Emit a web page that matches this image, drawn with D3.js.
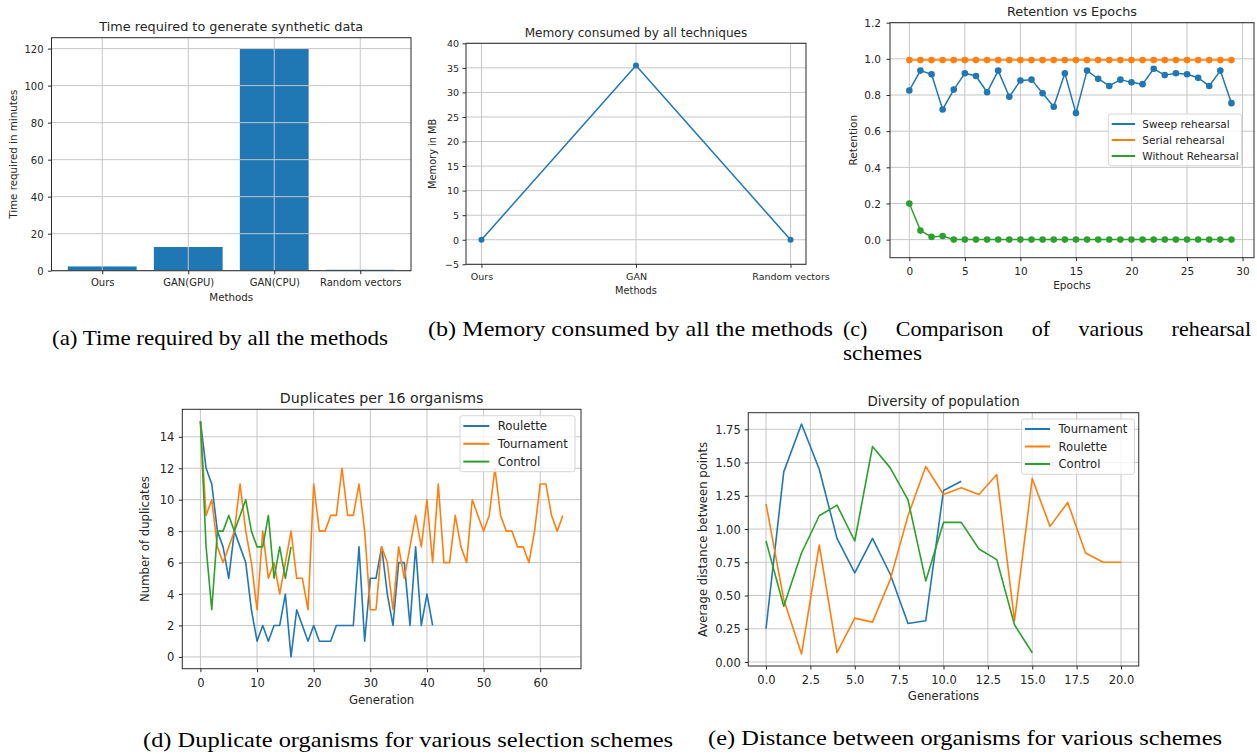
<!DOCTYPE html>
<html><head><meta charset="utf-8">
<script src="https://cdn.jsdelivr.net/npm/d3@7"></script>
<style>
body{margin:0;background:#fff}
svg{display:block}
</style>
</head><body>
<svg id="fig" width="1257" height="754"></svg>
<script>
// ---------------- DATA ----------------
const timeMethods = ["Ours", "GAN(GPU)", "GAN(CPU)", "Random vectors"];
const timeMinutes = [2.3, 12.8, 119.8, 0.5];
const timeTicks = [0, 20, 40, 60, 80, 100, 120];

const memMethods = ["Ours", "GAN", "Random vectors"];
const memMB = [0, 35.5, 0];
const memTicks = [-5, 0, 5, 10, 15, 20, 25, 30, 35, 40];

const epochTicks = [0, 5, 10, 15, 20, 25, 30];
const retentionTicks = [0.0, 0.2, 0.4, 0.6, 0.8, 1.0, 1.2];
const sweepRehearsal = [0.825, 0.935, 0.915, 0.72, 0.83, 0.92, 0.905, 0.815, 0.935, 0.79,
  0.88, 0.885, 0.81, 0.735, 0.92, 0.70, 0.935, 0.89, 0.85, 0.885,
  0.87, 0.86, 0.945, 0.91, 0.92, 0.915, 0.895, 0.85, 0.935, 0.755];
const serialRehearsal = [0.993, 0.993, 0.993, 0.993, 0.993, 0.993, 0.993, 0.993, 0.993, 0.993,
  0.993, 0.993, 0.993, 0.993, 0.993, 0.993, 0.993, 0.993, 0.993, 0.993,
  0.993, 0.993, 0.993, 0.993, 0.993, 0.993, 0.993, 0.993, 0.993, 0.993];
const withoutRehearsal = [0.2, 0.05, 0.015, 0.02, 0, 0, 0, 0, 0, 0,
  0, 0, 0, 0, 0, 0, 0, 0, 0, 0,
  0, 0, 0, 0, 0, 0, 0, 0, 0, 0];
const retentionSeries = ["Sweep rehearsal", "Serial rehearsal", "Without Rehearsal"];

const generationTicks = [0, 10, 20, 30, 40, 50, 60];
const duplicateTicks = [0, 2, 4, 6, 8, 10, 12, 14];
const dupRoulette = [15, 12, 11, 8, 7, 5, 8, 7, 6, 3, 1, 2, 1, 2, 2, 4, 0, 3, 2, 1,
  2, 1, 1, 1, 2, 2, 2, 2, 7, 1, 5, 5, 7, 4, 2, 6, 6, 2, 7, 2, 4, 2];
const dupTournament = [15, 9, 10, 7, 6, 7, 8, 11, 8, 6, 3, 8, 5, 6, 4, 6, 8, 5, 5, 3,
  11, 8, 8, 9, 9, 12, 9, 9, 11, 8, 3, 3, 7, 6, 3, 7, 5, 7, 9, 7,
  10, 6, 11, 6, 6, 9, 7, 6, 10, 9, 8, 9, 12, 9, 8, 8, 7, 7, 6, 8,
  11, 11, 9, 8, 9];
const dupControl = [15, 7, 3, 8, 8, 9, 8, 9, 10, 8, 7, 7, 9, 5, 7, 5, 7];
const dupSeries = ["Roulette", "Tournament", "Control"];

const diversityXTicks = [0, 2.5, 5, 7.5, 10, 12.5, 15, 17.5, 20];
const diversityYTicks = [0, 0.25, 0.5, 0.75, 1.0, 1.25, 1.5, 1.75];
const divTournament = [0.25, 1.43, 1.79, 1.45, 0.93, 0.67, 0.93, 0.66, 0.29, 0.31, 1.29, 1.36];
const divRoulette = [1.19, 0.47, 0.06, 0.88, 0.07, 0.33, 0.30, 0.62, 1.10, 1.47, 1.26, 1.31,
  1.26, 1.41, 0.31, 1.38, 1.02, 1.20, 0.82, 0.75, 0.75];
const divControl = [0.91, 0.42, 0.82, 1.10, 1.18, 0.91, 1.62, 1.46, 1.22, 0.61, 1.05, 1.05,
  0.85, 0.77, 0.28, 0.07];
const divSeries = ["Tournament", "Roulette", "Control"];

const captions = [
  "(a) Time required by all the methods",
  "(b) Memory consumed by all the methods",
  "(c) Comparison of various rehearsal",
  "schemes",
  "(d) Duplicate organisms for various selection schemes",
  "(e) Distance between organisms for various schemes"
];

// ---------------- STYLE ----------------
const FONT = '"DejaVu Sans", sans-serif';
const SERIF = '"Liberation Serif", "Times New Roman", Times, serif';
const TXT = "#262626";
const GRID = "#c6c6c6";
const SPINE = "#2b2b2b";
const BLUE = "#1f77b4", ORANGE = "#ff7f0e", GREEN = "#2ca02c";

const svg = d3.select("#fig");

function panel(o) {
  const g = svg.append("g");
  const x = d3.scaleLinear().domain(o.xd).range([o.l, o.r]);
  const y = d3.scaleLinear().domain(o.yd).range([o.b, o.t]);
  const H = o.b - o.t, W = o.r - o.l;
  const below = g.append("g");
  const grid = g.append("g");
  const marks = g.append("g");
  const top = g.append("g");

  grid.selectAll("line.gx").data(o.xt).join("line")
    .attr("x1", d => x(d)).attr("x2", d => x(d)).attr("y1", o.t).attr("y2", o.b)
    .attr("stroke", GRID).attr("stroke-width", 1);
  grid.selectAll("line.gy").data(o.yt).join("line")
    .attr("y1", d => y(d)).attr("y2", d => y(d)).attr("x1", o.l).attr("x2", o.r)
    .attr("stroke", GRID).attr("stroke-width", 1);

  const ax = top.append("g").attr("transform", `translate(0,${o.b})`)
    .call(d3.axisBottom(x).tickValues(o.xt).tickFormat(o.xf).tickSize(3.5));
  ax.select(".domain").remove();
  ax.selectAll("line").attr("stroke", SPINE);
  ax.selectAll("text").attr("y", o.xoff).attr("dy", "0.35em")
    .attr("font-family", FONT).attr("font-size", o.tfs).attr("fill", TXT);
  const ay = top.append("g").attr("transform", `translate(${o.l},0)`)
    .call(d3.axisLeft(y).tickValues(o.yt).tickFormat(o.yf).tickSize(3.5));
  ay.select(".domain").remove();
  ay.selectAll("line").attr("stroke", SPINE);
  ay.selectAll("text").attr("x", -o.yoff).attr("dy", "0.35em")
    .attr("font-family", FONT).attr("font-size", o.tfs).attr("fill", TXT);

  top.append("rect").attr("x", o.l).attr("y", o.t).attr("width", W).attr("height", H)
    .attr("fill", "none").attr("stroke", SPINE).attr("stroke-width", 1);

  top.append("text").attr("x", (o.l + o.r) / 2).attr("y", o.titleY).attr("dy", "0.35em")
    .attr("text-anchor", "middle").attr("font-family", FONT).attr("font-size", o.titfs)
    .attr("fill", TXT).text(o.title);
  top.append("text").attr("x", (o.l + o.r) / 2).attr("y", o.xlabY).attr("dy", "0.35em")
    .attr("text-anchor", "middle").attr("font-family", FONT).attr("font-size", o.lfs)
    .attr("fill", TXT).text(o.xlab);
  top.append("text").attr("transform", `translate(${o.ylabX},${(o.t + o.b) / 2}) rotate(-90)`)
    .attr("dy", "0.35em").attr("text-anchor", "middle").attr("font-family", FONT)
    .attr("font-size", o.lfs).attr("fill", TXT).text(o.ylab);
  return { g, x, y, below, marks, top };
}

function drawLine(p, vals, color, lw, r) {
  const line = d3.line().x((d, i) => p.x(i)).y(d => p.y(d));
  p.marks.append("path").datum(vals).attr("d", line).attr("fill", "none")
    .attr("stroke", color).attr("stroke-width", lw).attr("stroke-linejoin", "round");
  if (r) {
    p.marks.append("g").selectAll("circle").data(vals).join("circle")
      .attr("cx", (d, i) => p.x(i)).attr("cy", d => p.y(d)).attr("r", r).attr("fill", color);
  }
}

function legend(p, o) {
  const lg = p.top.append("g");
  lg.append("rect").attr("x", o.x).attr("y", o.y).attr("width", o.w).attr("height", o.h)
    .attr("rx", 2.5).attr("fill", "#fff").attr("fill-opacity", 0.8)
    .attr("stroke", "#d6d6d6").attr("stroke-width", 1);
  o.items.forEach((it, i) => {
    const cy = o.y0 + i * o.dy;
    lg.append("line").attr("x1", o.hx0).attr("x2", o.hx1).attr("y1", cy).attr("y2", cy)
      .attr("stroke", it.c).attr("stroke-width", 2);
    lg.append("text").attr("x", o.tx).attr("y", cy).attr("dy", "0.35em")
      .attr("font-family", FONT).attr("font-size", o.fs).attr("fill", TXT).text(it.t);
  });
}

// ---------------- (a) ----------------
{
  const p = panel({
    l: 51.5, r: 411, t: 37.7, b: 270.7, xd: [-0.59, 3.59], yd: [0, 125.9],
    xt: d3.range(timeMethods.length), xf: i => timeMethods[i], yt: timeTicks, yf: d3.format("d"),
    xoff: 12.3, yoff: 8, tfs: 10, lfs: 10.3, titfs: 12.8,
    title: "Time required to generate synthetic data", titleY: 26.5,
    xlab: "Methods", xlabY: 297, ylab: "Time required in minutes", ylabX: 13.5
  });
  const bw = p.x(0.4) - p.x(0);
  p.below.selectAll("rect").data(timeMinutes).join("rect")
    .attr("x", (d, i) => p.x(i) - bw).attr("width", 2 * bw)
    .attr("y", d => p.y(d)).attr("height", d => p.y(0) - p.y(d)).attr("fill", BLUE);
}

// ---------------- (b) ----------------
{
  const p = panel({
    l: 466, r: 806, t: 43.3, b: 264.3, xd: [-0.1, 2.1], yd: [-5, 40],
    xt: d3.range(memMethods.length), xf: i => memMethods[i], yt: memTicks,
    yf: d => d < 0 ? "\u2212" + Math.abs(d) : String(d),
    xoff: 12.4, yoff: 7, tfs: 9.5, lfs: 9.8, titfs: 12.1,
    title: "Memory consumed by all techniques", titleY: 32.7,
    xlab: "Methods", xlabY: 290.7, ylab: "Memory in MB", ylabX: 432.7
  });
  drawLine(p, memMB, BLUE, 1.5, 3);
}

// ---------------- (c) ----------------
{
  const p = panel({
    l: 890, r: 1254, t: 22.7, b: 257.7, xd: [-1.74, 31.03], yd: [-0.1, 1.2],
    xt: epochTicks, xf: d3.format("d"), yt: retentionTicks, yf: d3.format(".1f"),
    xoff: 14, yoff: 9, tfs: 10.5, lfs: 10.5, titfs: 12.8,
    title: "Retention vs Epochs", titleY: 11.7,
    xlab: "Epochs", xlabY: 285.7, ylab: "Retention", ylabX: 853.3
  });
  drawLine(p, sweepRehearsal, BLUE, 1.5, 3.3);
  drawLine(p, serialRehearsal, ORANGE, 1.5, 3.3);
  drawLine(p, withoutRehearsal, GREEN, 1.5, 3.3);
  legend(p, {
    x: 1108.3, y: 114, w: 133.4, h: 51.7, y0: 124, dy: 16, hx0: 1111.7, hx1: 1135, tx: 1142.3, fs: 10.5,
    items: [{ t: retentionSeries[0], c: BLUE }, { t: retentionSeries[1], c: ORANGE }, { t: retentionSeries[2], c: GREEN }]
  });
}

// ---------------- (d) ----------------
{
  const p = panel({
    l: 182.3, r: 581, t: 409.3, b: 668.7, xd: [-3.2, 67.2], yd: [-0.75, 15.75],
    xt: generationTicks, xf: d3.format("d"), yt: duplicateTicks, yf: d3.format("d"),
    xoff: 14.6, yoff: 8, tfs: 11.5, lfs: 11.7, titfs: 14.2,
    title: "Duplicates per 16 organisms", titleY: 397.7,
    xlab: "Generation", xlabY: 700, ylab: "Number of duplicates", ylabX: 145
  });
  drawLine(p, dupRoulette, BLUE, 1.6, 0);
  drawLine(p, dupTournament, ORANGE, 1.6, 0);
  drawLine(p, dupControl, GREEN, 1.6, 0);
  legend(p, {
    x: 460, y: 415.7, w: 115, h: 56, y0: 426, dy: 17.8, hx0: 463.3, hx1: 489.3, tx: 497.7, fs: 11.8,
    items: [{ t: dupSeries[0], c: BLUE }, { t: dupSeries[1], c: ORANGE }, { t: dupSeries[2], c: GREEN }]
  });
}

// ---------------- (e) ----------------
{
  const p = panel({
    l: 748.25, r: 1138.75, t: 412.7, b: 666, xd: [-1, 21], yd: [-0.03, 1.875],
    xt: diversityXTicks, xf: d3.format(".1f"), yt: diversityYTicks, yf: d3.format(".2f"),
    xoff: 14, yoff: 7.5, tfs: 11.5, lfs: 11.7, titfs: 13.4,
    title: "Diversity of population", titleY: 401.7,
    xlab: "Generations", xlabY: 696, ylab: "Average distance between points", ylabX: 702.7
  });
  drawLine(p, divTournament, BLUE, 1.6, 0);
  drawLine(p, divRoulette, ORANGE, 1.6, 0);
  drawLine(p, divControl, GREEN, 1.6, 0);
  legend(p, {
    x: 1021.6, y: 419, w: 112.8, h: 55.3, y0: 429, dy: 17.5, hx0: 1025, hx1: 1050, tx: 1058.5, fs: 11.6,
    items: [{ t: divSeries[0], c: BLUE }, { t: divSeries[1], c: ORANGE }, { t: divSeries[2], c: GREEN }]
  });
}

// ---------------- captions ----------------
const CAPFS = 22;
function caption(txt, x0, x1, base) {
  svg.append("text").attr("x", x0).attr("y", base).attr("font-family", SERIF)
    .attr("font-size", CAPFS).attr("fill", "#000")
    .attr("textLength", x1 - x0).attr("lengthAdjust", "spacingAndGlyphs").text(txt);
}
function justified(txt, x0, x1, base) {
  const words = txt.split(" ");
  const ts = words.map(w => svg.append("text").attr("y", base).attr("font-family", SERIF)
    .attr("font-size", CAPFS).attr("fill", "#000").text(w));
  const widths = ts.map(t => t.node().getComputedTextLength());
  const total = d3.sum(widths);
  const gap = (x1 - x0 - total) / (words.length - 1);
  let cx = x0;
  ts.forEach((t, i) => {
    t.attr("x", cx);
    cx += widths[i] + gap;
  });
}
caption(captions[0], 52, 388, 345);
caption(captions[1], 428, 833, 336);
justified(captions[2], 843, 1251, 336);
caption(captions[3], 843, 922, 360);
caption(captions[4], 143, 673, 747);
caption(captions[5], 708, 1222, 745);
</script>
</body></html>
